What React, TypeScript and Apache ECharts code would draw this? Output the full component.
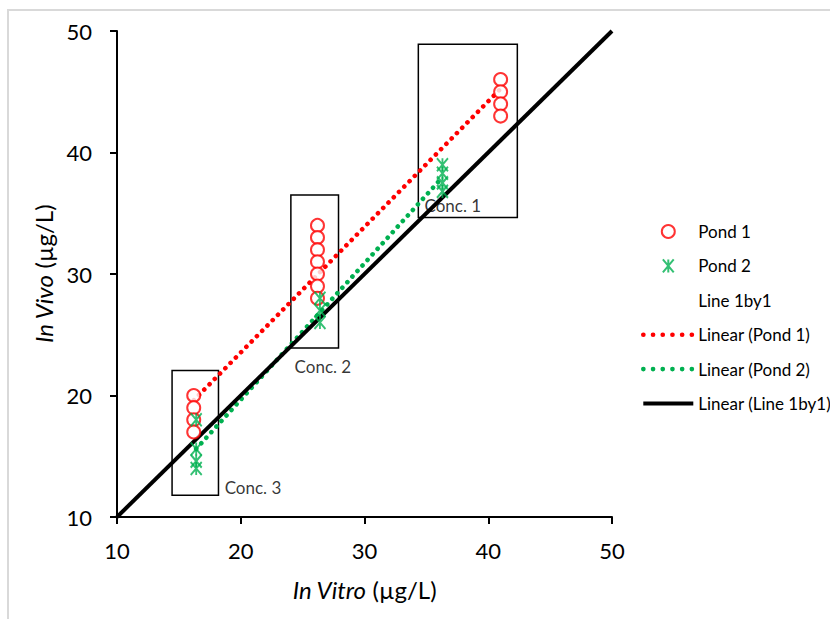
import React, { useEffect, useRef } from "react";
import * as echarts from "echarts";

// Pond 1 (red circles)
const pond1X = [16.2, 16.2, 16.2, 16.2, 26.2, 26.2, 26.2, 26.2, 26.2, 26.2, 26.2, 41.0, 41.0, 41.0, 41.0];
const pond1Y = [20, 19, 18, 17, 34, 33, 32, 31, 30, 29, 28, 46, 45, 44, 43];
// Pond 2 (green asterisks)
const pond2X = [16.4, 16.4, 16.4, 16.4, 26.4, 26.4, 26.4, 36.3, 36.3, 36.3, 36.3];
const pond2Y = [18, 15.6, 14.6, 14.0, 28, 27, 26, 39, 38.3, 37.5, 36.8];
// Line 1by1
const lineX = [10, 50];
const lineY = [10, 50];
// Concentration boxes [x1, y1, x2, y2] and label anchors
const boxNames = ["Conc. 3", "Conc. 2", "Conc. 1"];
const boxX1 = [14.45, 24.05, 34.35];
const boxX2 = [18.2, 27.9, 42.35];
const boxY1 = [11.8, 23.9, 34.65];
const boxY2 = [22.05, 36.5, 48.9];
const labelX = [18.7, 24.35, 34.85];
const labelY = [12.4, 22.35, 35.6];
// Axis ticks
const axisMin = 10;
const axisMax = 50;
const axisStep = 10;

function fit(xs: number[], ys: number[]) {
  const n = xs.length;
  const mx = xs.reduce((a, b) => a + b, 0) / n;
  const my = ys.reduce((a, b) => a + b, 0) / n;
  let sxy = 0, sxx = 0;
  for (let i = 0; i < n; i++) {
    sxy += (xs[i] - mx) * (ys[i] - my);
    sxx += (xs[i] - mx) * (xs[i] - mx);
  }
  const b = sxy / sxx;
  const a = my - b * mx;
  const x0 = Math.min(...xs);
  const x1 = Math.max(...xs);
  return [[x0, a + b * x0], [x1, a + b * x1]];
}

const FONT = "Lato";
const RED = "#ff0000";
const GREEN = "#00b050";
const STAR = "path://M0,0L10,12M10,0L0,12M5,0L5,12";

export default function App() {
  const ref = useRef<HTMLDivElement>(null);
  useEffect(() => {
    if (!ref.current) return;
    const chart = echarts.init(ref.current, null, { renderer: "svg" });
    const dotted = [0.1, 7.4];
    const titleStyle = {
      fontFamily: FONT,
      fontSize: 24,
      color: "#000",
      rich: { i: { fontFamily: FONT, fontSize: 24, fontStyle: "italic", color: "#000" } },
    };
    chart.setOption({
      animation: false,
      backgroundColor: "#ffffff",
      textStyle: { fontFamily: FONT },
      graphic: [
        {
          type: "rect",
          shape: { x: 8, y: 10, width: 900, height: 700 },
          style: { fill: "none", stroke: "#d9d9d9", lineWidth: 2 },
          silent: true,
          z: -10,
        },
      ],
      grid: { left: 117, right: 218, top: 31, bottom: 102 },
      legend: {
        orient: "vertical",
        left: 636,
        top: 218,
        itemWidth: 50,
        itemHeight: 13,
        itemGap: 17.4,
        textStyle: { fontFamily: FONT, fontSize: 17, color: "#000" },
        data: [
          { name: "Pond 1" },
          { name: "Pond 2" },
          { name: "Line 1by1", itemStyle: { opacity: 0 }, lineStyle: { opacity: 0 } },
          { name: "Linear (Pond 1)", itemStyle: { opacity: 0 }, lineStyle: { type: [0.1, 9.6], width: 4.6, cap: "round" } },
          { name: "Linear (Pond 2)", itemStyle: { opacity: 0 }, lineStyle: { type: [0.1, 9.6], width: 4.6, cap: "round" } },
          { name: "Linear (Line 1by1)", itemStyle: { opacity: 0 }, lineStyle: { width: 4 } },
        ],
      },
      xAxis: {
        type: "value",
        min: axisMin,
        max: axisMax,
        interval: axisStep,
        splitLine: { show: false },
        axisLine: { lineStyle: { color: "#000", width: 2 } },
        axisTick: { inside: false, length: 7, lineStyle: { color: "#000", width: 2 } },
        axisLabel: { fontFamily: FONT, fontSize: 22, color: "#000", margin: 22 },
        name: "{i|In Vitro} (µg/L)",
        nameLocation: "middle",
        nameGap: 60,
        nameTextStyle: titleStyle,
      },
      yAxis: {
        type: "value",
        min: axisMin,
        max: axisMax,
        interval: axisStep,
        splitLine: { show: false },
        axisLine: { lineStyle: { color: "#000", width: 2 } },
        axisTick: { inside: false, length: 7, lineStyle: { color: "#000", width: 2 } },
        axisLabel: { fontFamily: FONT, fontSize: 22, color: "#000", margin: 25 },
        name: "{i|In Vivo} (µg/L)",
        nameLocation: "middle",
        nameGap: 60,
        nameTextStyle: titleStyle,
      },
      series: [
        {
          name: "Linear (Line 1by1)",
          type: "line",
          data: fit(lineX, lineY),
          symbol: "none",
          lineStyle: { color: "#000", width: 4 },
          itemStyle: { color: "#000" },
          z: 3,
        },
        {
          name: "Linear (Pond 1)",
          type: "line",
          data: fit(pond1X, pond1Y),
          symbol: "none",
          lineStyle: { color: RED, width: 4.6, type: dotted, cap: "round" },
          itemStyle: { color: RED },
          z: 2,
        },
        {
          name: "Linear (Pond 2)",
          type: "line",
          data: fit(pond2X, pond2Y),
          symbol: "none",
          lineStyle: { color: GREEN, width: 4.6, type: dotted, cap: "round" },
          itemStyle: { color: GREEN },
          z: 2,
        },
        {
          name: "Pond 1",
          type: "scatter",
          data: pond1X.map((x, i) => [x, pond1Y[i]]),
          symbol: "emptyCircle",
          symbolSize: 13,
          itemStyle: { color: RED, borderColor: RED, borderWidth: 1.5 },
          z: 4,
        },
        {
          name: "Pond 2",
          type: "scatter",
          data: pond2X.map((x, i) => [x, pond2Y[i]]),
          symbol: STAR,
          symbolSize: [11, 13],
          itemStyle: { color: "transparent", borderColor: GREEN, borderWidth: 2 },
          z: 5,
        },
        {
          name: "Line 1by1",
          type: "scatter",
          data: lineX.map((x, i) => [x, lineY[i]]),
          symbolSize: 0,
          itemStyle: { opacity: 0 },
          markArea: {
            silent: true,
            itemStyle: { color: "transparent", borderColor: "#000", borderWidth: 1.5 },
            label: { show: false },
            data: boxNames.map((n, i) => [
              { name: n, coord: [boxX1[i], boxY1[i]] },
              { coord: [boxX2[i], boxY2[i]] },
            ]),
          },
          z: 1,
        },
        {
          name: "labels",
          type: "scatter",
          data: labelX.map((x, i) => ({ value: [x, labelY[i]], name: boxNames[i] })),
          symbolSize: 0,
          silent: true,
          label: {
            show: true,
            position: "right",
            distance: 0,
            formatter: (p: any) => p.name,
            fontFamily: FONT,
            fontSize: 17,
            color: "#000",
          },
          z: 6,
        },
      ],
    });
    return () => chart.dispose();
  }, []);
  return (
    <div
      ref={ref}
      style={{ position: "fixed", left: 0, top: 0, width: 830, height: 619, background: "#fff" }}
    />
  );
}
